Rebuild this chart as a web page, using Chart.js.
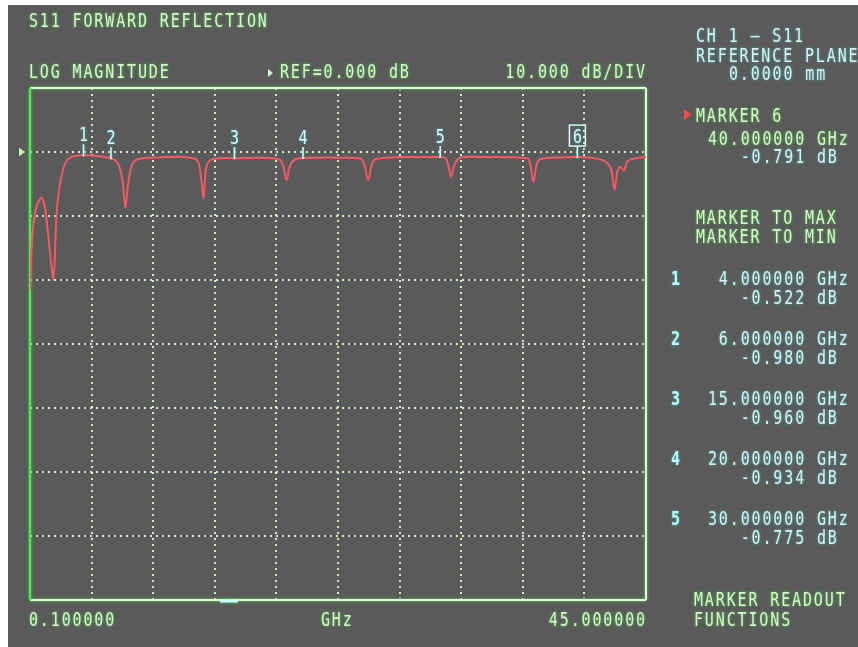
<!DOCTYPE html>
<html>
<head>
<meta charset="utf-8">
<script src="https://cdn.jsdelivr.net/npm/chart.js@4/dist/chart.umd.min.js"></script>
<style>
  html, body { margin: 0; padding: 0; background: #ffffff; }
  canvas { display: block; }
</style>
</head>
<body>
<canvas id="vna" width="858" height="647"></canvas>
<script>
// Sweep settings
const startGHz = 0.1;
const stopGHz = 45.0;
const refLevel = 0;      // dB
const dbPerDiv = 10;     // dB/div
const divsAboveRef = 1;
const divsBelowRef = 7;
const xDivisions = 10;

// S11 log-magnitude trace (frequency in GHz, magnitude in dB)
const freqGHz = [
  0.10, 0.17, 0.25, 0.40, 0.60, 0.85, 0.95, 1.10, 1.25, 1.40, 1.55, 1.70, 1.80, 1.90, 2.00, 2.15,
  2.30, 2.50, 2.80, 3.10, 3.50, 4.00, 4.60, 5.20, 5.70, 6.00, 6.30, 6.60, 6.85, 7.05, 7.25, 7.50,
  7.80, 8.30, 9.50, 11.0, 12.0, 12.4, 12.6, 12.75, 12.9, 13.1, 13.5, 14.5, 15.0, 17.0, 18.3, 18.6,
  18.8, 19.0, 19.3, 20.0, 22.0, 24.2, 24.5, 24.75, 25.0, 25.3, 27.0, 29.8, 30.0, 30.4, 30.6, 30.8,
  31.0, 31.3, 31.8, 34.0, 36.4, 36.6, 36.8, 37.0, 37.3, 38.5, 40.0, 41.0, 41.7, 42.2, 42.5, 42.7,
  42.9, 43.1, 43.4, 43.6, 44.0, 44.5, 45.0
];
const s11dB = [
  -21.5, -17.0, -13.5, -10.5, -8.3, -7.3, -7.2, -7.8, -9.5, -12.5, -15.5, -18.5, -20.0, -17.0, -11.0, -7.0,
  -4.8, -2.8, -1.3, -0.8, -0.6, -0.522, -0.55, -0.7, -0.85, -0.980, -1.3, -2.2, -4.5, -8.7, -5.0, -2.2,
  -1.3, -1.0, -0.85, -0.75, -1.0, -1.8, -4.5, -7.2, -3.0, -1.6, -1.1, -0.95, -0.960, -0.9, -1.2, -2.5,
  -4.4, -2.5, -1.3, -0.934, -0.85, -1.0, -2.2, -4.4, -2.0, -1.1, -0.8, -0.78, -0.775, -1.0, -2.2, -3.9,
  -2.2, -1.1, -0.75, -0.8, -1.0, -2.3, -4.7, -2.2, -1.1, -0.85, -0.791, -0.9, -1.2, -1.8, -3.0, -5.9,
  -3.2, -2.3, -2.9, -1.6, -1.1, -0.9, -0.8
];

// Markers
const markerNo = ['1', '2', '3', '4', '5', '6'];
const markerGHz = [4, 6, 15, 20, 30, 40];
const markerdB = [-0.522, -0.980, -0.960, -0.934, -0.775, -0.791];
const activeMarker = 6;

// Screen annotation texts
const titleText = 'S11 FORWARD REFLECTION';
const formatText = 'LOG MAGNITUDE';
const channelText = 'CH 1 — S11';
const refPlaneText = ['REFERENCE PLANE', '0.0000 mm'];
const softKeys = ['MARKER TO MAX', 'MARKER TO MIN'];
const menuTitle = ['MARKER READOUT', 'FUNCTIONS'];
const xUnit = 'GHz';

const yTop = refLevel + divsAboveRef * dbPerDiv;
const yBottom = refLevel - divsBelowRef * dbPerDiv;

const ADV = 10.9;            // character cell width
const FONT = '15px "DejaVu Sans Mono", "Liberation Mono", monospace';
const GREEN_TXT = '#d8f5cc';
const GREEN_GLOW = 'rgba(70,230,70,0.8)';
const CYAN_TXT = '#d6f4f0';
const CYAN_GLOW = 'rgba(70,220,220,0.65)';

function drawText(ctx, s, x, base, color, glow, weight) {
  ctx.save();
  ctx.font = (weight ? weight + ' ' : '') + FONT;
  ctx.fillStyle = color;
  ctx.shadowColor = glow;
  ctx.shadowBlur = 3;
  ctx.textAlign = 'center';
  ctx.textBaseline = 'alphabetic';
  for (let i = 0; i < s.length; i++) {
    ctx.save();
    ctx.translate(x + i * ADV + ADV / 2, base);
    ctx.scale(1, 1.25);
    ctx.fillText(s[i], 0, 0);
    ctx.restore();
  }
  ctx.restore();
}
function drawTextRight(ctx, s, xRight, base, color, glow) {
  drawText(ctx, s, xRight - s.length * ADV, base, color, glow);
}
function tri(ctx, pts, color) {
  ctx.save();
  ctx.fillStyle = color;
  ctx.beginPath();
  ctx.moveTo(pts[0], pts[1]);
  ctx.lineTo(pts[2], pts[3]);
  ctx.lineTo(pts[4], pts[5]);
  ctx.closePath();
  ctx.fill();
  ctx.restore();
}

const screenPlugin = {
  id: 'screen',
  beforeDraw(chart) {
    const ctx = chart.ctx;
    ctx.save();
    ctx.fillStyle = '#ffffff';
    ctx.fillRect(0, 0, chart.width, chart.height);
    ctx.fillStyle = '#5a5a5a';
    ctx.fillRect(8, 5, chart.width - 8, chart.height - 5);
    ctx.restore();
  },
  beforeDatasetsDraw(chart) {
    const ctx = chart.ctx;
    const a = chart.chartArea;
    ctx.save();
    ctx.shadowColor = 'rgba(80,240,80,0.8)';
    ctx.shadowBlur = 3;
    // top, bottom and right edges
    ctx.strokeStyle = '#e6fae0';
    ctx.lineWidth = 2;
    ctx.beginPath();
    ctx.moveTo(a.left, a.top); ctx.lineTo(a.right, a.top);
    ctx.moveTo(a.left, a.bottom); ctx.lineTo(a.right, a.bottom);
    ctx.moveTo(a.right, a.top); ctx.lineTo(a.right, a.bottom);
    ctx.stroke();
    // left edge
    ctx.strokeStyle = '#4cf04c';
    ctx.beginPath();
    ctx.moveTo(a.left, a.top); ctx.lineTo(a.left, a.bottom);
    ctx.stroke();
    // sweep position indicator on the bottom edge
    ctx.strokeStyle = '#c8ffff';
    ctx.lineWidth = 3;
    ctx.beginPath();
    ctx.moveTo(220, a.bottom + 1); ctx.lineTo(238, a.bottom + 1);
    ctx.stroke();
    ctx.restore();
  },
  afterDraw(chart) {
    const ctx = chart.ctx;
    const xs = chart.scales.x, ys = chart.scales.y;

    // reference position arrow
    const refY = ys.getPixelForValue(refLevel);
    tri(ctx, [19, refY - 4.5, 19, refY + 4.5, 25, refY], '#c8f0a8');

    // markers on the trace
    for (let i = 0; i < markerGHz.length; i++) {
      const mx = xs.getPixelForValue(markerGHz[i]);
      const my = ys.getPixelForValue(markerdB[i]);
      ctx.save();
      ctx.strokeStyle = '#d6fafa';
      ctx.lineWidth = 1.5;
      ctx.shadowColor = CYAN_GLOW; ctx.shadowBlur = 2;
      ctx.beginPath();
      ctx.moveTo(mx, my - 11); ctx.lineTo(mx, my + 1);
      ctx.stroke();
      ctx.restore();
      const base = my - 14;
      drawText(ctx, markerNo[i], mx - ADV / 2, base, '#d6fafa', CYAN_GLOW);
      if (Number(markerNo[i]) === activeMarker) {
        ctx.save();
        ctx.strokeStyle = '#d6fafa';
        ctx.lineWidth = 1.5;
        ctx.strokeRect(mx - 8, base - 18, 16, 21);
        ctx.restore();
      }
    }

    // header
    drawText(ctx, titleText, 28, 27, GREEN_TXT, GREEN_GLOW);
    drawText(ctx, formatText, 28, 78, GREEN_TXT, GREEN_GLOW);
    tri(ctx, [268, 69, 268, 77, 273, 73], GREEN_TXT);
    drawText(ctx, 'REF=' + refLevel.toFixed(3) + ' dB', 279, 78, GREEN_TXT, GREEN_GLOW);
    drawTextRight(ctx, dbPerDiv.toFixed(3) + ' dB/DIV', 646, 78, GREEN_TXT, GREEN_GLOW);

    // frequency annotation
    drawText(ctx, startGHz.toFixed(6), 28, 626, GREEN_TXT, GREEN_GLOW);
    drawText(ctx, xUnit, 320, 626, GREEN_TXT, GREEN_GLOW);
    drawTextRight(ctx, stopGHz.toFixed(6), 646, 626, GREEN_TXT, GREEN_GLOW);

    // right-hand panel
    drawText(ctx, channelText, 695, 42, CYAN_TXT, CYAN_GLOW);
    drawText(ctx, refPlaneText[0], 695, 62, CYAN_TXT, CYAN_GLOW);
    drawText(ctx, refPlaneText[1], 728, 80, CYAN_TXT, CYAN_GLOW);

    const colRight = 707 + 13 * ADV;
    const ai = markerNo.indexOf(String(activeMarker));
    tri(ctx, [684, 109, 684, 120, 691, 114.5], '#ff4a4a');
    drawText(ctx, 'MARKER ' + activeMarker, 695, 122, GREEN_TXT, GREEN_GLOW);
    drawTextRight(ctx, markerGHz[ai].toFixed(6) + ' GHz', colRight, 145, GREEN_TXT, GREEN_GLOW);
    drawText(ctx, markerdB[ai].toFixed(3) + ' dB', 707 + 3 * ADV, 163, CYAN_TXT, CYAN_GLOW);

    drawText(ctx, softKeys[0], 695, 224, GREEN_TXT, GREEN_GLOW);
    drawText(ctx, softKeys[1], 695, 243, GREEN_TXT, GREEN_GLOW);

    for (let i = 0; i < markerGHz.length; i++) {
      if (Number(markerNo[i]) === activeMarker) continue;
      const base = 285 + i * 60;
      drawText(ctx, markerNo[i], 670, base, '#b8ffff', CYAN_GLOW, 'bold');
      drawTextRight(ctx, markerGHz[i].toFixed(6) + ' GHz', colRight, base, CYAN_TXT, CYAN_GLOW);
      drawText(ctx, markerdB[i].toFixed(3) + ' dB', 707 + 3 * ADV, base + 19, CYAN_TXT, CYAN_GLOW);
    }

    drawText(ctx, menuTitle[0], 693, 606, GREEN_TXT, GREEN_GLOW);
    drawText(ctx, menuTitle[1], 693, 626, GREEN_TXT, GREEN_GLOW);
  }
};

const xGrid = [];
for (let i = 0; i <= xDivisions; i++) xGrid.push(startGHz + (stopGHz - startGHz) * i / xDivisions);
const yGrid = [];
for (let v = yTop; v >= yBottom; v -= dbPerDiv) yGrid.push(v);

const gridStyle = {
  display: true,
  drawTicks: false,
  color: 'rgba(222,248,212,0.9)',
  lineWidth: 2
};

new Chart(document.getElementById('vna'), {
  type: 'line',
  data: {
    datasets: [{
      data: freqGHz.map((f, i) => ({ x: f, y: s11dB[i] })),
      borderColor: '#f45a66',
      borderWidth: 2,
      pointRadius: 0,
      tension: 0.35,
      cubicInterpolationMode: 'monotone',
      fill: false
    }]
  },
  options: {
    responsive: false,
    devicePixelRatio: 1,
    animation: false,
    layout: { padding: { left: 30, right: 212, top: 88, bottom: 47 } },
    plugins: { legend: { display: false }, tooltip: { enabled: false } },
    scales: {
      x: {
        type: 'linear',
        min: startGHz,
        max: stopGHz,
        grid: gridStyle,
        border: { display: false, dash: [2, 4] },
        ticks: { display: false },
        afterBuildTicks: (s) => { s.ticks = xGrid.map(v => ({ value: v })); }
      },
      y: {
        type: 'linear',
        min: yBottom,
        max: yTop,
        grid: gridStyle,
        border: { display: false, dash: [2, 4] },
        ticks: { display: false },
        afterBuildTicks: (s) => { s.ticks = yGrid.map(v => ({ value: v })); }
      }
    }
  },
  plugins: [screenPlugin]
});
</script>
</body>
</html>
